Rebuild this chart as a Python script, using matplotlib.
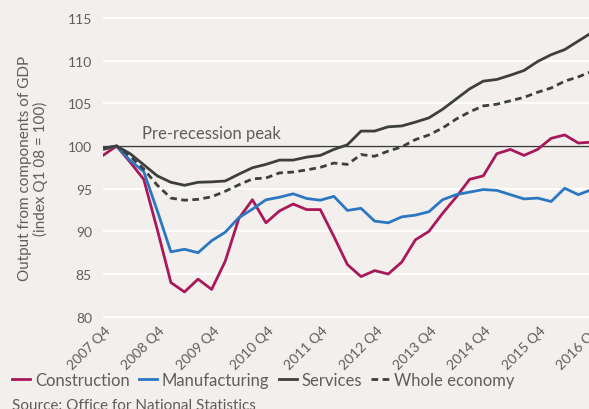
import matplotlib
matplotlib.use("Agg")
import matplotlib.pyplot as plt
import matplotlib.transforms as mtransforms

# quarterly index, Q1 2008 = 100, from 2007 Q4 to 2016 Q4
quarters = [f"{2007 + (i + 3) // 4} Q{(i + 3) % 4 + 1}" for i in range(37)]

construction = [98.9, 100.0, 98.1, 96.1, 90.2, 84.0, 82.9, 84.4, 83.2, 86.5,
                91.5, 93.7, 91.0, 92.4, 93.2, 92.55, 92.55, 89.4, 86.1, 84.7,
                85.4, 85.0, 86.4, 89.0, 90.0, 92.1, 94.0, 96.1, 96.5, 99.1,
                99.6, 98.9, 99.6, 100.9, 101.3, 100.35, 100.45]
manufacturing = [99.7, 100.0, 98.3, 97.0, 92.4, 87.6, 87.9, 87.5, 88.9, 89.9,
                 91.6, 92.6, 93.7, 94.0, 94.4, 93.85, 93.65, 94.1, 92.45, 92.7,
                 91.2, 91.0, 91.7, 91.9, 92.3, 93.7, 94.3, 94.6, 94.9, 94.8,
                 94.3, 93.8, 93.9, 93.5, 95.05, 94.3, 94.9]
services = [99.75, 100.0, 99.1, 97.8, 96.5, 95.75, 95.4, 95.75, 95.8, 95.9,
            96.7, 97.45, 97.85, 98.35, 98.35, 98.7, 98.9, 99.6, 100.15, 101.75,
            101.75, 102.25, 102.35, 102.8, 103.3, 104.3, 105.5, 106.7, 107.6, 107.8,
            108.3, 108.85, 109.9, 110.7, 111.3, 112.3, 113.3]
whole_economy = [99.6, 100.0, 98.8, 97.3, 95.4, 93.9, 93.65, 93.75, 94.05, 94.7,
                 95.45, 96.15, 96.25, 96.85, 96.95, 97.2, 97.5, 98.0, 97.85, 99.0,
                 98.8, 99.4, 99.9, 100.75, 101.3, 102.1, 103.15, 104.0, 104.7, 104.9,
                 105.3, 105.7, 106.3, 106.8, 107.6, 108.1, 108.75]

bg = '#f2efec'
txt = '#5e5e5e'
plt.rcParams['font.family'] = ['Lato', 'DejaVu Sans']

fig = plt.figure(figsize=(5.89, 4.10), dpi=100, facecolor=bg)
ax = fig.add_axes([103 / 589, 1 - 319.4 / 410, 488.9 / 589, 302.1 / 410])
ax.set_facecolor(bg)

x = list(range(len(quarters)))
ax.plot(x, construction, color='#a8185b', lw=2.0, label='Construction', zorder=3)
ax.plot(x, manufacturing, color='#2b77c1', lw=2.0, label='Manufacturing', zorder=3)
ax.plot(x, services, color='#3d3f3f', lw=2.0, label='Services', zorder=4)
ax.plot(x, whole_economy, color='#3d3f3f', lw=2.0, dashes=(2.4, 1.6),
        label='Whole economy', zorder=4)

ax.axhline(100, color='#3a3a3a', lw=1.0, zorder=2)
ax.text(2.87, 100.6, 'Pre-recession peak', fontsize=12, color=txt, va='bottom')

ax.set_xlim(0, 36)
ax.set_ylim(79.8, 115.2)
ax.set_yticks([80, 85, 90, 95, 100, 105, 110, 115])
ax.set_xticks(x[::4])
ax.set_xticklabels(quarters[::4], rotation=45, ha='right', rotation_mode='anchor')
ax.grid(axis='y', color='white', lw=1.5, zorder=1)
ax.set_axisbelow(True)
for s in ax.spines.values():
    s.set_visible(False)
ax.tick_params(length=0, colors=txt, labelsize=10)
ax.tick_params(axis='y', pad=8)
ax.tick_params(axis='x', pad=2)
shift = mtransforms.ScaledTranslation(1 / 72, -2 / 72, fig.dpi_scale_trans)
for lab in ax.get_xticklabels():
    lab.set_transform(lab.get_transform() + shift)

ax.set_ylabel('Output from components of GDP\n(index Q1 08 = 100)',
              fontsize=11, color=txt, linespacing=1.1, labelpad=14)

fig.legend(loc='center left', bbox_to_anchor=(12 / 589, 1 - 381 / 410), ncol=4,
           frameon=False, fontsize=12, handlelength=1.08, handletextpad=0.3,
           columnspacing=0.55, borderaxespad=0, borderpad=0, labelcolor=txt)
fig.text(12 / 589, 1 - 413 / 410, 'Source: Office for National Statistics',
         fontsize=11, color=txt, va='bottom')

fig.savefig('out.png', dpi=100, facecolor=bg)
